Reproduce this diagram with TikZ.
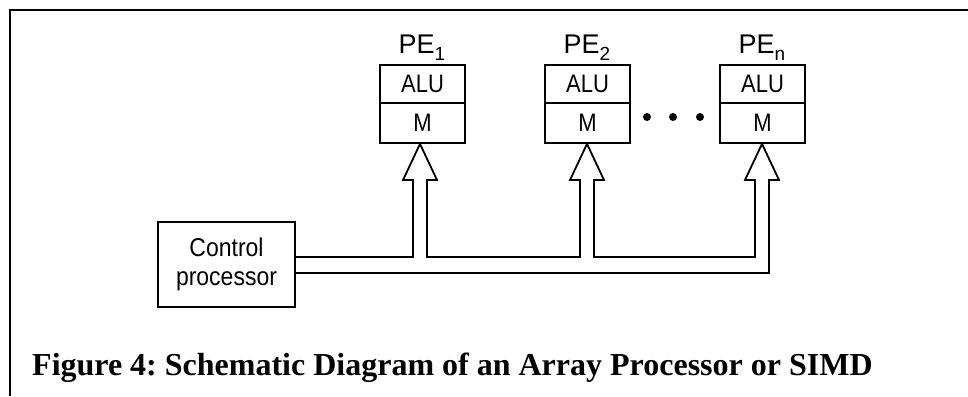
\documentclass[tikz,border=0pt]{standalone}
\usepackage{fontspec}
\setmainfont{Liberation Serif}
\newfontfamily\diagfont{Liberation Sans}
\newcommand{\pesub}[1]{\raisebox{-7pt}{\fontsize{19}{19}\selectfont #1}}
\begin{document}
\begin{tikzpicture}[x=1pt,y=-1pt,
  ln/.style={line width=1.8pt,line join=miter},
  cell/.style={draw,line width=1.8pt,minimum width=85pt,minimum height=38pt,inner sep=0pt,
    font=\diagfont\fontsize{22}{22}\selectfont},
  pelab/.style={font=\diagfont\fontsize{27}{27}\selectfont,inner sep=0pt},
  ctl/.style={draw,line width=1.8pt,minimum width=137pt,minimum height=85pt,inner sep=0pt,align=center,
    font=\diagfont\fontsize{23}{29}\selectfont},
  dotst/.style={fill=black,circle,inner sep=0pt,minimum size=8pt}]
\useasboundingbox (0,0) rectangle (968,396);
% frame
\draw[line width=2pt] (10,396) -- (10,10) -- (968,10);
% PE boxes
\node[cell] (alu1) at (422.5,84) {\scalebox{1}[1.15]{ALU}};
\node[cell,minimum height=40pt] (m1) at (422.5,123) {\scalebox{1}[1.15]{M}};
\node[cell] (alu2) at (587.5,84) {\scalebox{1}[1.15]{ALU}};
\node[cell,minimum height=40pt] (m2) at (587.5,123) {\scalebox{1}[1.15]{M}};
\node[cell] (alun) at (762.5,84) {\scalebox{1}[1.15]{ALU}};
\node[cell,minimum height=40pt] (mn) at (762.5,123) {\scalebox{1}[1.15]{M}};
\node[pelab,anchor=base] (pe1) at (422,53) {PE\pesub{1}};
\node[pelab,anchor=base] (pe2) at (587,53) {PE\pesub{2}};
\node[pelab,anchor=base] (pen) at (762,53) {PE\pesub{n}};
% dots
\node[dotst] (d1) at (647,117) {};
\node[dotst] (d2) at (673,117) {};
\node[dotst] (d3) at (700,117) {};
% control processor
\node[ctl] (cp) at (226.5,264.5) {\scalebox{1}[1.12]{Control}\\\scalebox{1}[1.12]{processor}};
% bus with hollow arrows
\coordinate (t1) at (m1.south -| 420,0);
\coordinate (t2) at (m2.south -| 587,0);
\coordinate (tn) at (mn.south -| 762,0);
\draw[ln] (cp.east |- 0,257) -- (413,257) -- (413,180) -- (403,180) -- (t1)
  -- (437,180) -- (427,180) -- (427,257) -- (580,257) -- (580,180) -- (570,180) -- (t2)
  -- (604,180) -- (594,180) -- (594,257) -- (755,257) -- (755,180) -- (745,180) -- (tn)
  -- (779,180) -- (769,180) -- (769,273) -- (cp.east |- 0,273);
% caption
\node[anchor=base west,inner sep=0pt,font=\bfseries\fontsize{32}{32}\selectfont] (cap) at (32,375)
  {\frenchspacing Figure 4: Schematic Diagram of an Array Processor or SIMD};
\end{tikzpicture}
\end{document}
